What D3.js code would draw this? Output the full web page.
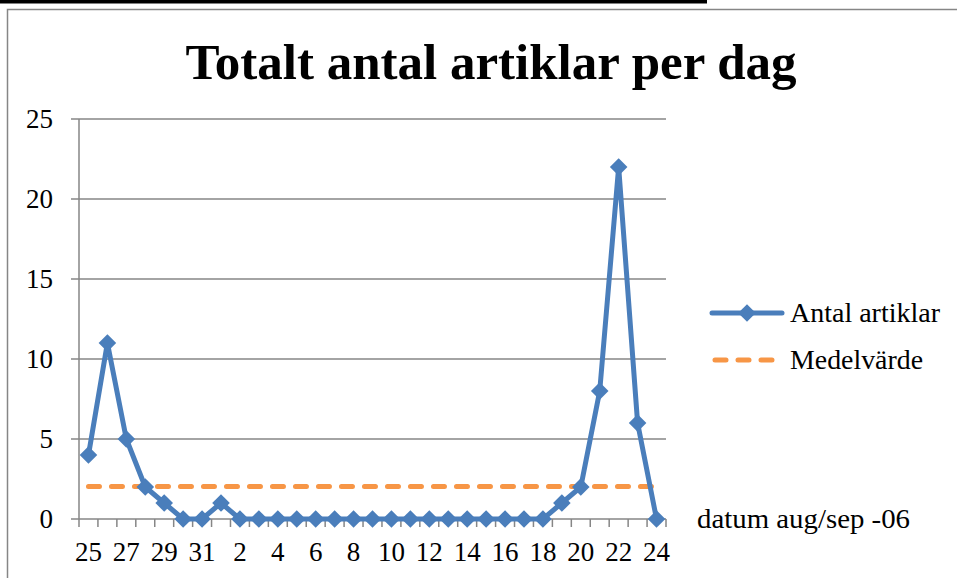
<!DOCTYPE html>
<html><head><meta charset="utf-8">
<script src="https://cdn.jsdelivr.net/npm/d3@7"></script>
<style>body{margin:0;background:#fff}svg{display:block}</style>
</head><body>
<svg id="c" width="957" height="578"></svg>
<script>
const categories = ["25","26","27","28","29","30","31","1","2","3","4","5","6","7","8","9","10","11","12","13","14","15","16","17","18","19","20","21","22","23","24"];
const antalArtiklar = [4,11,5,2,1,0,0,1,0,0,0,0,0,0,0,0,0,0,0,0,0,0,0,0,0,1,2,8,22,6,0];
const medelvarde = 2.03;
const yTicks = [0,5,10,15,20,25];
const tickLabelEvery = 2;

const svg = d3.select("#c");
const font = "'Liberation Serif', 'Times New Roman', serif";
const grid = "#868686";

// top black band and frame
svg.append("rect").attr("x",0).attr("y",0).attr("width",707).attr("height",3.5).attr("fill","#000");
svg.append("path").attr("d","M7.5,580 V9.5 H960").attr("fill","none").attr("stroke",grid).attr("stroke-width",1.5);

const L = 79, R = 666, T = 119, B = 519;
const x = d3.scaleBand().domain(categories).range([L,R]);
const y = d3.scaleLinear().domain([0,25]).range([B,T]);
const cx = d => x(d) + x.bandwidth()/2;

// title
svg.append("text").attr("x",491).attr("y",79).attr("text-anchor","middle")
  .attr("font-family",font).attr("font-weight","bold").attr("font-size",51)
  .text("Totalt antal artiklar per dag");

// gridlines
svg.append("g").selectAll("line").data(yTicks).join("line")
  .attr("x1",L-8).attr("x2",R).attr("y1",d=>y(d)).attr("y2",d=>y(d))
  .attr("stroke",grid).attr("stroke-width",1.5);

// y axis
svg.append("line").attr("x1",L).attr("x2",L).attr("y1",T).attr("y2",B).attr("stroke",grid).attr("stroke-width",1.5);
svg.append("g").selectAll("text").data(yTicks).join("text")
  .attr("x",53).attr("y",d=>y(d)+9).attr("text-anchor","end")
  .attr("font-family",font).attr("font-size",27).text(d=>d);

// x ticks
const bounds = categories.map(c=>x(c)).concat([R]);
svg.append("g").selectAll("line").data(bounds).join("line")
  .attr("x1",d=>d).attr("x2",d=>d).attr("y1",B).attr("y2",B+8)
  .attr("stroke",grid).attr("stroke-width",1.5);
svg.append("g").selectAll("text").data(categories.filter((c,i)=>i%tickLabelEvery===0)).join("text")
  .attr("x",d=>cx(d)).attr("y",561).attr("text-anchor","middle")
  .attr("font-family",font).attr("font-size",27).text(d=>d);

// x axis title
svg.append("text").attr("x",697).attr("y",528).attr("font-family",font).attr("font-size",27)
  .attr("textLength",213).attr("lengthAdjust","spacingAndGlyphs").text("datum aug/sep -06");

// mean line
const blue = "#4A7EBB", orange = "#F79646";
svg.append("line").attr("x1",cx(categories[0])).attr("x2",cx(categories[categories.length-1]))
  .attr("y1",y(medelvarde)).attr("y2",y(medelvarde))
  .attr("stroke",orange).attr("stroke-width",5).attr("stroke-linecap","round").attr("stroke-dasharray","11,12");

// series line
const line = d3.line().x((d,i)=>cx(categories[i])).y(d=>y(d));
svg.append("path").datum(antalArtiklar).attr("d",line).attr("fill","none")
  .attr("stroke",blue).attr("stroke-width",5).attr("stroke-linejoin","round");
const marker = d3.symbol().type(d3.symbolSquare).size(155)();
svg.append("g").selectAll("path").data(antalArtiklar).join("path")
  .attr("d",marker)
  .attr("transform",(d,i)=>`translate(${cx(categories[i])},${y(d)}) rotate(45)`)
  .attr("fill",blue);

// legend
svg.append("line").attr("x1",712).attr("x2",782).attr("y1",313).attr("y2",313).attr("stroke",blue).attr("stroke-width",5).attr("stroke-linecap","round");
svg.append("path").attr("d",marker).attr("transform","translate(747,313) rotate(45)").attr("fill",blue);
svg.append("text").attr("x",790).attr("y",322).attr("font-family",font).attr("font-size",27)
  .attr("textLength",150).attr("lengthAdjust","spacingAndGlyphs").text("Antal artiklar");
svg.append("line").attr("x1",715).attr("x2",780).attr("y1",360).attr("y2",360).attr("stroke",orange).attr("stroke-width",5).attr("stroke-linecap","round").attr("stroke-dasharray","11,12");
svg.append("text").attr("x",790).attr("y",369).attr("font-family",font).attr("font-size",27)
  .attr("textLength",133).attr("lengthAdjust","spacingAndGlyphs").text("Medelvärde");
</script>
</body></html>
